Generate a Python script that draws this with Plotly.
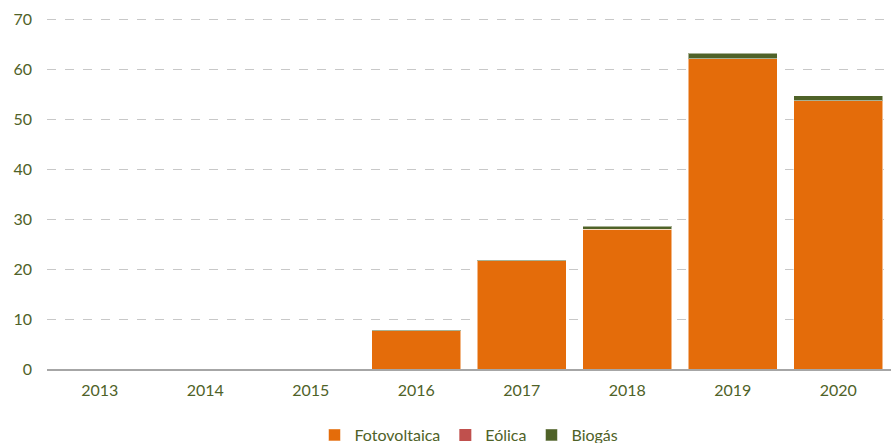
import plotly.graph_objects as go

years = ["2013", "2014", "2015", "2016", "2017", "2018", "2019", "2020"]
fotovoltaica = [0, 0, 0, 7.7, 21.7, 28.0, 62.1, 53.7]
eolica = [0, 0, 0, 0, 0, 0, 0, 0]
biogas = [0, 0, 0, 0.1, 0.1, 0.6, 1.1, 1.0]

txt = "#4f6228"
fig = go.Figure()
fig.add_bar(x=years, y=fotovoltaica, name="Fotovoltaica", marker_color="#e46c0a",
            marker_line=dict(color="rgba(255,255,255,0.5)", width=1))
fig.add_bar(x=years, y=eolica, name="Eólica", marker_color="#c0504d",
            marker_line_width=0)
fig.add_bar(x=years, y=biogas, name="Biogás", marker_color="#4f6228",
            marker_line=dict(color="rgba(255,255,255,0.5)", width=1))

fig.update_layout(
    barmode="stack",
    bargap=0.16,
    width=891, height=443,
    margin=dict(l=47, r=0, t=14, b=74, autoexpand=False),
    plot_bgcolor="white", paper_bgcolor="white",
    font=dict(family="Lato, Open Sans, sans-serif", size=16, color=txt),
    legend=dict(orientation="h", x=0.5, xanchor="center", yref="paper",
                y=-0.186, yanchor="middle",
                font=dict(size=16, color=txt), itemwidth=30, traceorder="normal"),
    showlegend=True,
)
fig.update_xaxes(showline=True, linecolor="#a6a6a6", linewidth=2, ticks="",
                 ticklabelstandoff=6,
                 tickfont=dict(size=16, color=txt), showgrid=False)
fig.update_yaxes(range=[0, 71], tickvals=[0, 10, 20, 30, 40, 50, 60, 70],
                 showgrid=True, gridcolor="#c8c8c8",
                 griddash="dash", gridwidth=1.3, zeroline=False, showline=False,
                 ticks="", ticklabelstandoff=14,
                 tickfont=dict(size=16, color=txt))
fig.write_html("out.html", config={"displayModeBar": False},
               post_script="document.body.style.margin='0';")
